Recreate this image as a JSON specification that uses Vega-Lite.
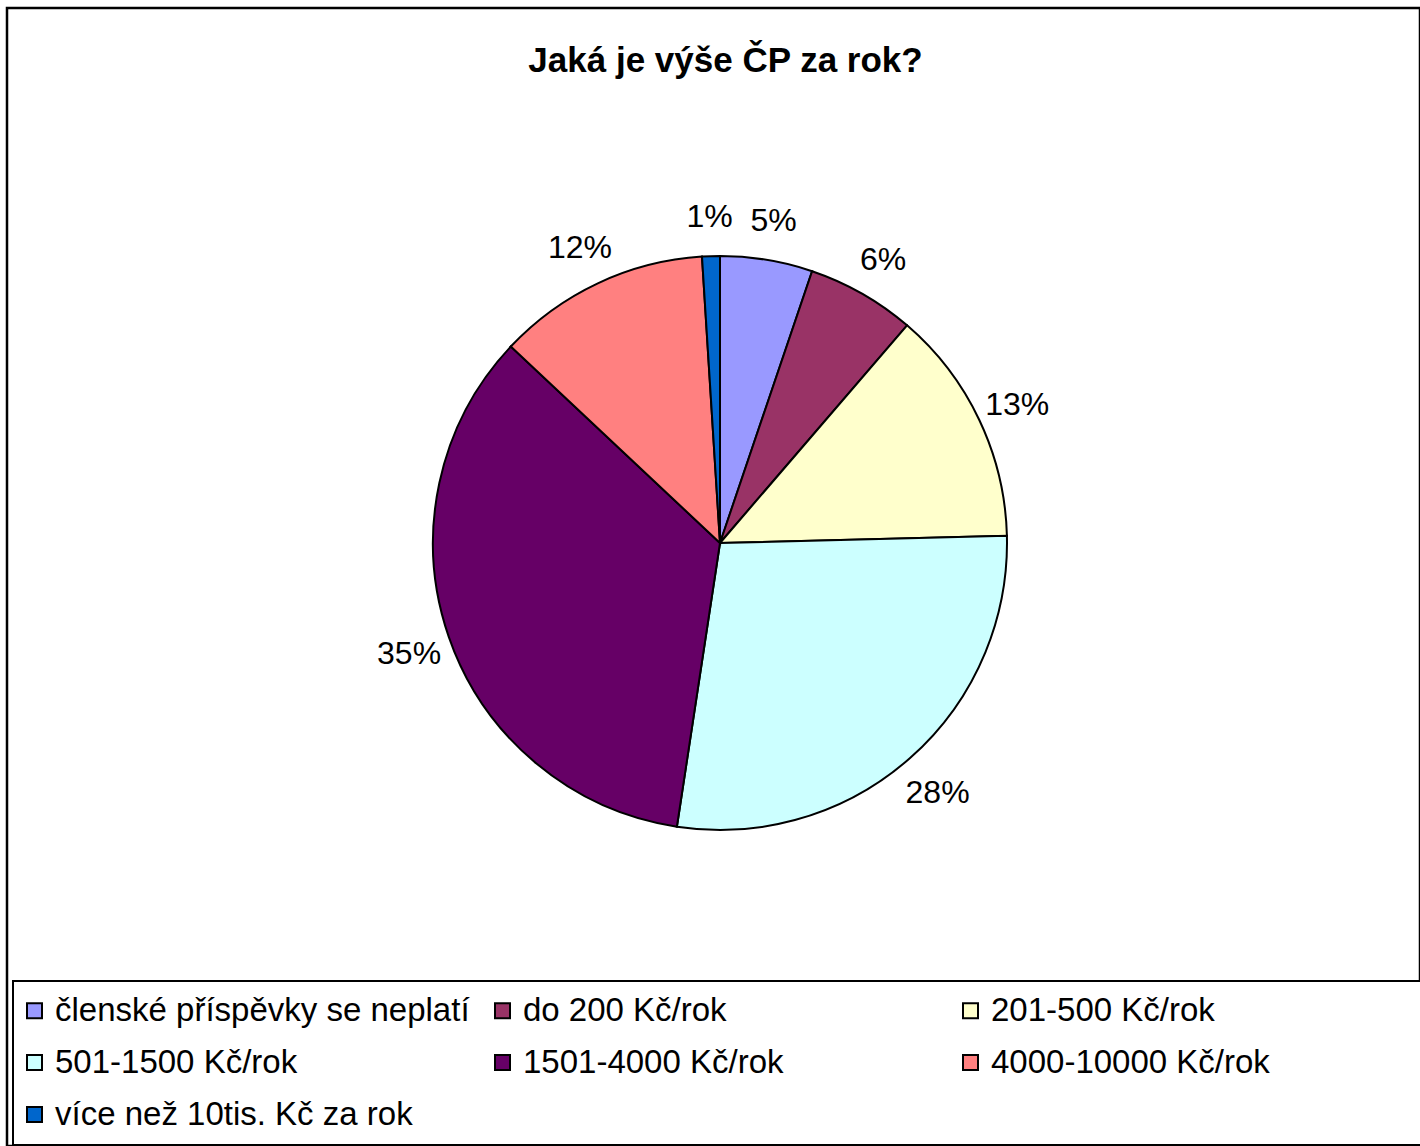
{
  "$schema": "https://vega.github.io/schema/vega-lite/v6.json",
  "width": 1413,
  "height": 1138,
  "autosize": {"type": "none"},
  "padding": {"left": 7, "top": 8, "right": 0, "bottom": 0},
  "background": "white",
  "view": {"stroke": "black", "strokeWidth": 2.5},
  "config": {
    "view": {"stroke": "black", "strokeWidth": 2.5},
    "font": "Liberation Sans",
    "legend": {"strokeWidth": 2}
  },
  "title": {
    "text": "Jaká je výše ČP za rok?",
    "fontSize": 35,
    "fontWeight": "bold",
    "font": "Liberation Sans",
    "color": "black",
    "anchor": "middle",
    "dx": 12,
    "offset": -71
  },
  "data": {
    "values": [
      {"idx": 1, "category": "členské příspěvky se neplatí", "value": 5.2, "pct": "5%"},
      {"idx": 2, "category": "do 200 Kč/rok", "value": 6.1, "pct": "6%"},
      {"idx": 3, "category": "201-500 Kč/rok", "value": 13.3, "pct": "13%"},
      {"idx": 4, "category": "501-1500 Kč/rok", "value": 27.8, "pct": "28%"},
      {"idx": 5, "category": "1501-4000 Kč/rok", "value": 34.6, "pct": "35%"},
      {"idx": 6, "category": "4000-10000 Kč/rok", "value": 12.0, "pct": "12%"},
      {"idx": 7, "category": "více než 10tis. Kč za rok", "value": 1.0, "pct": "1%"}
    ]
  },
  "encoding": {
    "theta": {"field": "value", "type": "quantitative", "stack": true},
    "order": {"field": "idx", "type": "quantitative"},
    "color": {
      "field": "category",
      "type": "nominal",
      "scale": {
        "domain": ["členské příspěvky se neplatí", "do 200 Kč/rok", "201-500 Kč/rok", "501-1500 Kč/rok", "1501-4000 Kč/rok", "4000-10000 Kč/rok", "více než 10tis. Kč za rok"],
        "range": ["#9999FF", "#993366", "#FFFFCC", "#CCFFFF", "#660066", "#FF8080", "#0066CC"]
      },
      "legend": {
        "orient": "none",
        "legendX": 6,
        "legendY": 973,
        "title": " ",
        "titleOrient": "right",
        "titlePadding": 200,
        "direction": "horizontal",
        "columns": 3,
        "gridAlign": "all",
        "columnPadding": 21,
        "rowPadding": 18,
        "symbolType": "square",
        "symbolSize": 225,
        "symbolOffset": -8,
        "symbolStrokeColor": "black",
        "symbolStrokeWidth": 2,
        "labelFontSize": 33,
        "labelFont": "Liberation Sans",
        "labelColor": "black",
        "labelOffset": 4,
        "labelLimit": 600,
        "strokeColor": "black",
        "fillColor": "white",
        "padding": 13
      }
    }
  },
  "layer": [
    {
      "mark": {"type": "arc", "outerRadius": 287, "stroke": "black", "strokeWidth": 2, "xOffset": 6.5, "yOffset": -34}
    },
    {
      "mark": {"type": "text", "radius": 329, "fontSize": 32, "font": "Liberation Sans", "xOffset": 6.5, "yOffset": -31},
      "encoding": {
        "text": {"field": "pct"},
        "color": {"value": "black"},
        "detail": {"field": "category"}
      }
    }
  ]
}
